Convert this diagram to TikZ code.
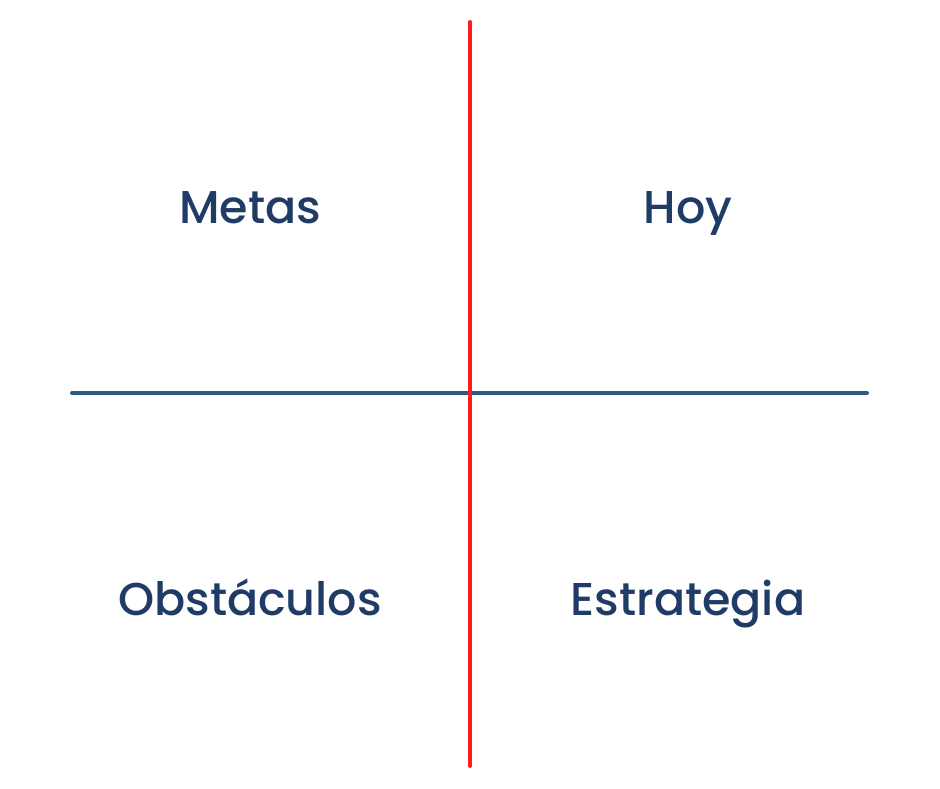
\documentclass[tikz,border=0pt]{standalone}
\usepackage{fontspec}
\setmainfont{Poppins Medium}
\definecolor{navy}{HTML}{1F3B66}
\definecolor{hline}{HTML}{2E5A8A}
\definecolor{vred}{HTML}{FF1C1C}
\begin{document}
\begin{tikzpicture}[x=1pt,y=-1pt,
  label/.style={font=\fontsize{46}{52}\selectfont, text=navy, anchor=base, inner sep=0pt}]
\useasboundingbox[fill=white] (0,0) rectangle (940,788);
\coordinate (vt) at (470,22);
\coordinate (vb) at (470,766);
\coordinate (hl) at (72,393);
\coordinate (hr) at (867,393);
\draw[hline, line width=4pt, line cap=round] (hl) -- (hr);
\draw[vred, line width=4pt, line cap=round] (vt) -- (vb);
\node[label] (metas) at (250,223) {Metas};
\node[label] (hoy) at (688,223) {Hoy};
\node[label] (obst) at (250,615) {Obstáculos};
\node[label] (estr) at (688,615) {Estrategia};
\end{tikzpicture}
\end{document}
